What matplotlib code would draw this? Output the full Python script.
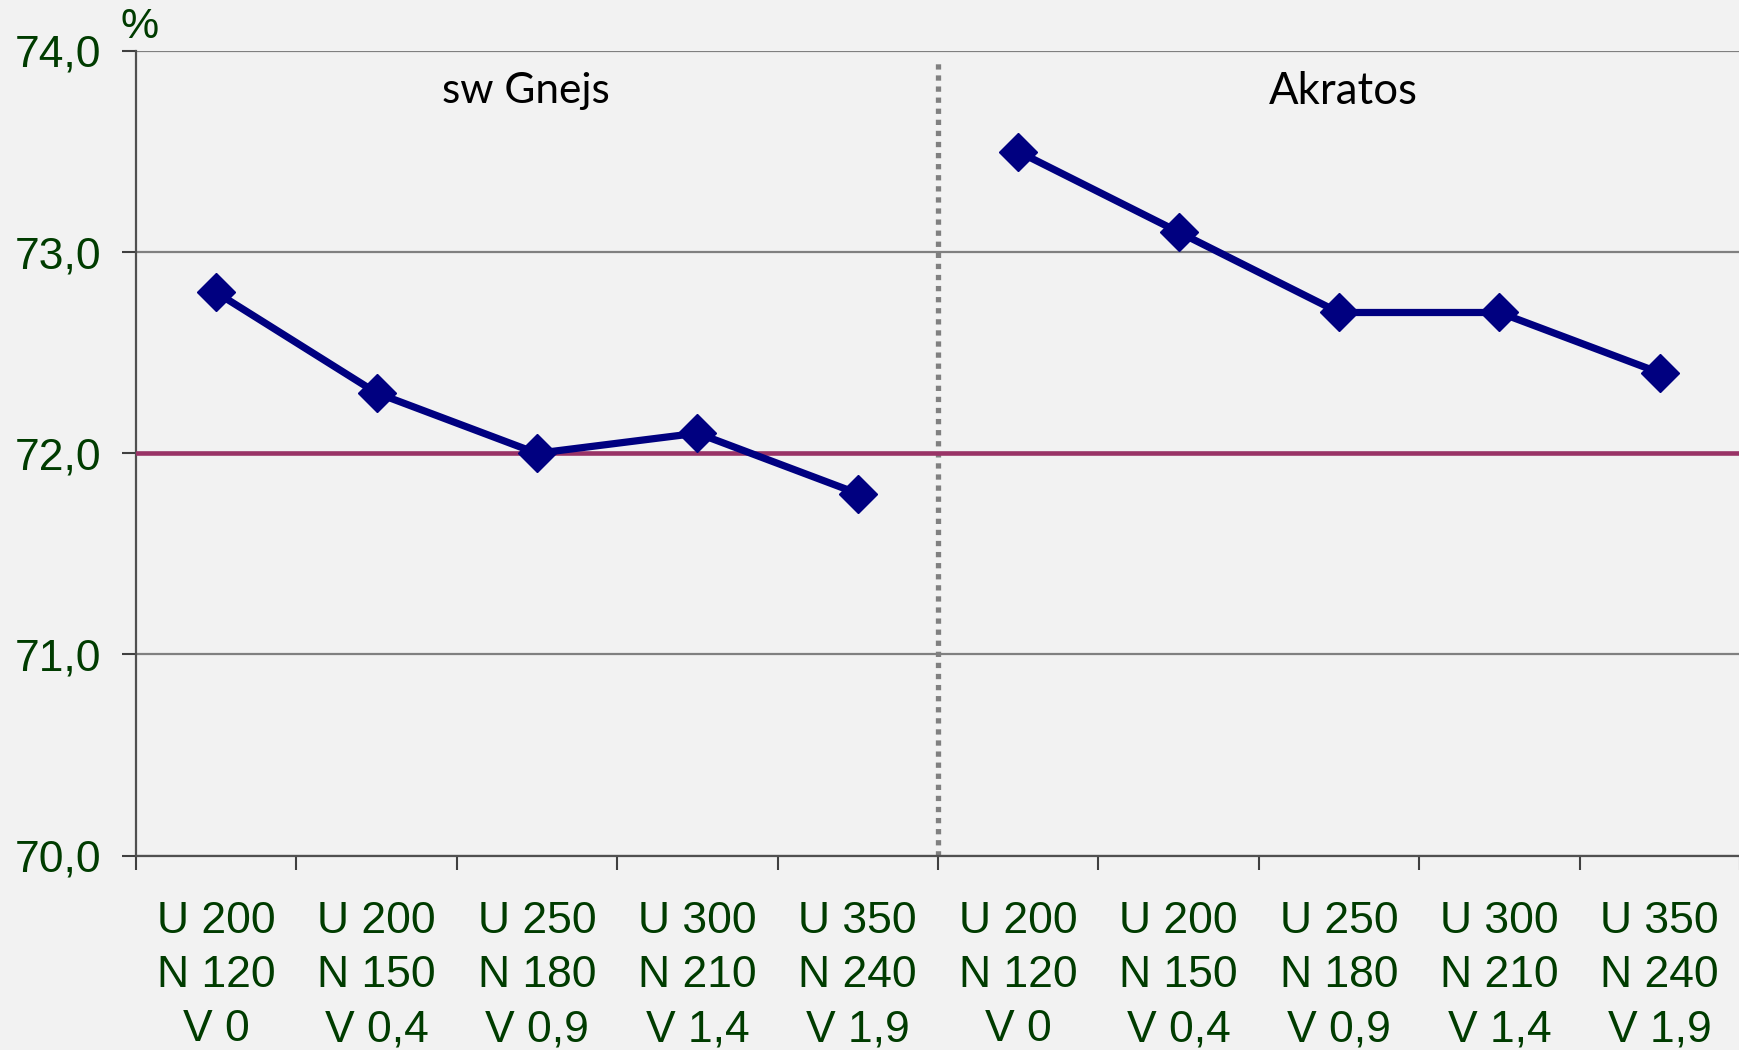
import matplotlib
matplotlib.use("Agg")
import matplotlib.pyplot as plt
import numpy as np

# category labels (same for both groups)
labels = ["U 200\nN 120\nV 0", "U 200\nN 150\nV 0,4", "U 250\nN 180\nV 0,9",
          "U 300\nN 210\nV 1,4", "U 350\nN 240\nV 1,9"] * 2
gnejs = [72.8, 72.3, 72.0, 72.1, 71.8]
akratos = [73.5, 73.1, 72.7, 72.7, 72.4]
ref_level = 72.0
yticks = [70, 71, 72, 73, 74]

green = "#003c00"
navy = "#000080"
bg = "#f2f2f2"

plt.rcParams['font.family'] = ['Liberation Sans', 'DejaVu Sans']

fig = plt.figure(figsize=(17.4, 10.5), dpi=100, facecolor=bg)
ax = fig.add_axes([136 / 1740, 1 - 855.6 / 1050, 1 - 136 / 1740, (855.6 - 51) / 1050])
ax.set_facecolor(bg)

x = np.arange(len(labels))
ax.plot(x[:5], gnejs, color=navy, lw=5.2, marker="D", ms=19, zorder=5, clip_on=False)
ax.plot(x[5:], akratos, color=navy, lw=5.2, marker="D", ms=19, zorder=5, clip_on=False)

ax.axhline(ref_level, color="#993366", lw=3.3, zorder=3)
ax.axvline(4.5, color="#808080", lw=3.8, ls=(0, (1, 1.1)), zorder=2, ymin=0, ymax=0.985)

ax.set_xlim(-0.5, 9.5)
ax.set_ylim(70, 74)
ax.set_yticks(yticks)
ax.set_yticklabels([f"{v},0" for v in yticks])
ax.set_xticks(x)
ax.set_xticklabels(labels, linespacing=1.4)
ax.set_xticks(np.arange(-0.5, 10, 1), minor=True)

ax.tick_params(axis="y", labelsize=32, labelcolor=green, length=10, width=1.5,
               color="#404040", pad=15)
ax.tick_params(axis="x", which="major", labelsize=32, labelcolor=green, length=0, pad=33)
ax.tick_params(axis="x", which="minor", length=10, width=1.5, color="#404040")

ax.grid(axis="y", color="#808080", lw=1.6, zorder=1)
ax.set_axisbelow(True)
for s in ["top", "right"]:
    ax.spines[s].set_visible(False)
for s in ["left", "bottom"]:
    ax.spines[s].set_color("#505050")
    ax.spines[s].set_linewidth(1.6)

ax.text(1.93, 73.8, "sw Gnejs", fontsize=30.5, family=["Lato", "DejaVu Sans"],
        ha="center", va="center", color="black")
ax.text(7.03, 73.8, "Akratos", fontsize=31.5, family=["Lato", "DejaVu Sans"],
        ha="center", va="center", color="black")

fig.text(140 / 1740, 1 - 27 / 1050, "%", fontsize=31, color=green, ha="center", va="center")

fig.savefig("out.png", dpi=100, facecolor=bg)
